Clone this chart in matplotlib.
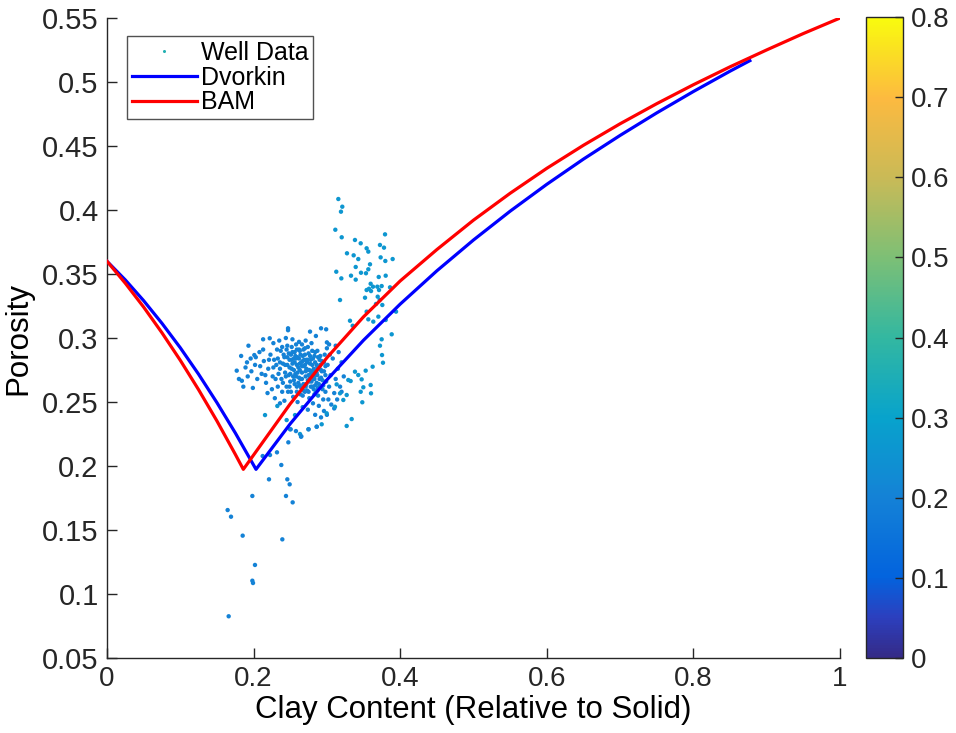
"""Porosity vs clay content: well data against Dvorkin and BAM mixing models."""

import matplotlib
matplotlib.use("Agg")
import matplotlib.pyplot as plt
from matplotlib.colors import LinearSegmentedColormap, Normalize
from matplotlib.lines import Line2D
from matplotlib.cm import ScalarMappable

plt.rcParams["font.family"] = ["Liberation Sans", "DejaVu Sans"]

# --- model curves -----------------------------------------------------------
dvorkin_clay = [0.0, 0.025, 0.05, 0.075, 0.10, 0.125, 0.15, 0.175, 0.2033,
                0.25, 0.30, 0.35, 0.40, 0.45, 0.50, 0.55, 0.60, 0.65, 0.70,
                0.75, 0.80, 0.85, 0.877]
dvorkin_phi = [0.360, 0.3454, 0.3292, 0.3115, 0.2924, 0.2717, 0.2495, 0.2259, 0.1974,
               0.2330, 0.2673, 0.2983, 0.3265, 0.3525, 0.3766, 0.3991, 0.4201, 0.4398,
               0.4583, 0.4759, 0.4926, 0.5085, 0.5167]

bam_clay = [0.0, 0.025, 0.05, 0.075, 0.10, 0.125, 0.15, 0.175, 0.186,
            0.25, 0.30, 0.35, 0.40, 0.45, 0.50, 0.55, 0.60, 0.65, 0.70,
            0.75, 0.80, 0.85, 0.90, 0.95, 1.0]
bam_phi = [0.360, 0.3428, 0.3242, 0.3041, 0.2826, 0.2596, 0.2352, 0.2092, 0.1974,
           0.2486, 0.2846, 0.3166, 0.3446, 0.3691, 0.3921, 0.4131, 0.4326, 0.4506,
           0.4674, 0.4831, 0.4979, 0.5119, 0.5251, 0.5379, 0.550]

# --- well data: main cluster ----------------------------------------------
core_clay = [
    0.228, 0.232, 0.236, 0.238, 0.241, 0.243, 0.245, 0.246, 0.248, 0.249,
    0.251, 0.252, 0.253, 0.255, 0.256, 0.257, 0.258, 0.259, 0.260, 0.261,
    0.262, 0.263, 0.264, 0.265, 0.266, 0.267, 0.268, 0.269, 0.270, 0.271,
    0.272, 0.273, 0.274, 0.275, 0.276, 0.277, 0.278, 0.279, 0.280, 0.281,
    0.282, 0.283, 0.284, 0.285, 0.286, 0.287, 0.288, 0.289, 0.290, 0.292,
    0.293, 0.294, 0.296, 0.297, 0.299, 0.301, 0.303, 0.305, 0.308, 0.310,
    0.312, 0.315, 0.318, 0.244, 0.247, 0.250, 0.254, 0.256, 0.259, 0.262,
    0.265, 0.268, 0.270, 0.273, 0.276, 0.279, 0.282, 0.285, 0.288, 0.291,
    0.295, 0.298, 0.302, 0.306, 0.300, 0.304, 0.263, 0.266, 0.269, 0.272,
    0.274, 0.277, 0.280, 0.283, 0.286, 0.258, 0.255, 0.252, 0.249, 0.246,
    0.240, 0.237, 0.234, 0.231, 0.226, 0.223, 0.220, 0.217, 0.214, 0.211,
    0.208, 0.205, 0.202, 0.199, 0.196, 0.192, 0.189, 0.186, 0.183, 0.180,
    0.225, 0.229, 0.233, 0.236, 0.239, 0.242, 0.219, 0.213, 0.227, 0.235,
    0.244, 0.253, 0.262, 0.271, 0.260, 0.267, 0.274, 0.281, 0.289, 0.296,
    0.284, 0.292, 0.300, 0.310, 0.314, 0.320, 0.323, 0.320, 0.316, 0.312,
    0.177, 0.184, 0.193, 0.201, 0.213, 0.222, 0.247, 0.247, 0.277, 0.285,
    0.292, 0.299, 0.303, 0.300,
    0.240, 0.243, 0.246, 0.249, 0.251, 0.254, 0.256, 0.258, 0.260, 0.262,
    0.264, 0.266, 0.268, 0.270, 0.272, 0.274, 0.276, 0.278, 0.280, 0.282,
    0.284, 0.286, 0.288, 0.290, 0.292, 0.294, 0.296, 0.298, 0.250, 0.253,
    0.257, 0.261, 0.264, 0.267, 0.271, 0.275, 0.278, 0.281, 0.284, 0.287,
    0.290, 0.293, 0.259, 0.263, 0.267, 0.271, 0.275, 0.279, 0.283, 0.287,
    0.242, 0.245, 0.248, 0.252, 0.255, 0.259, 0.263, 0.266, 0.270, 0.274,
    0.277, 0.280, 0.283, 0.287, 0.291, 0.295, 0.298, 0.233, 0.230, 0.236,
    0.239, 0.227, 0.221, 0.216, 0.209, 0.203, 0.197, 0.191,
]
core_phi = [
    0.283, 0.291, 0.276, 0.268, 0.287, 0.279, 0.262, 0.294, 0.271, 0.283,
    0.258, 0.276, 0.289, 0.267, 0.281, 0.272, 0.295, 0.262, 0.285, 0.277,
    0.269, 0.290, 0.256, 0.281, 0.273, 0.286, 0.264, 0.278, 0.292, 0.270,
    0.283, 0.259, 0.275, 0.288, 0.266, 0.280, 0.272, 0.296, 0.262, 0.284,
    0.276, 0.268, 0.289, 0.258, 0.279, 0.271, 0.285, 0.264, 0.276, 0.269,
    0.282, 0.260, 0.274, 0.287, 0.266, 0.279, 0.262, 0.271, 0.284, 0.257,
    0.268, 0.276, 0.262, 0.270, 0.258, 0.266, 0.254, 0.289, 0.279, 0.284,
    0.261, 0.291, 0.258, 0.281, 0.253, 0.274, 0.260, 0.271, 0.255, 0.286,
    0.252, 0.258, 0.252, 0.248, 0.292, 0.287, 0.275, 0.268, 0.283, 0.276,
    0.267, 0.286, 0.279, 0.274, 0.265, 0.270, 0.275, 0.283, 0.277, 0.285,
    0.280, 0.290, 0.272, 0.279, 0.270, 0.287, 0.276, 0.265, 0.282, 0.272,
    0.289, 0.268, 0.279, 0.261, 0.284, 0.270, 0.277, 0.262, 0.286, 0.268,
    0.260, 0.253, 0.262, 0.249, 0.258, 0.251, 0.257, 0.291, 0.296, 0.298,
    0.300, 0.299, 0.297, 0.298, 0.250, 0.246, 0.244, 0.249, 0.247, 0.243,
    0.240, 0.238, 0.240, 0.245, 0.252, 0.258, 0.270, 0.281, 0.289, 0.294,
    0.2745, 0.2666, 0.294, 0.2867, 0.299, 0.2998, 0.3076, 0.3061, 0.305, 0.3016,
    0.3076, 0.3068, 0.295, 0.2966,
    0.265, 0.273, 0.279, 0.262, 0.287, 0.270, 0.264, 0.284, 0.273, 0.291,
    0.268, 0.278, 0.259, 0.287, 0.264, 0.283, 0.275, 0.262, 0.290, 0.268,
    0.281, 0.273, 0.261, 0.283, 0.275, 0.267, 0.281, 0.271, 0.272, 0.280,
    0.286, 0.265, 0.287, 0.282, 0.274, 0.271, 0.283, 0.270, 0.263, 0.277,
    0.268, 0.274, 0.258, 0.263, 0.255, 0.262, 0.258, 0.266, 0.256, 0.259,
    0.285, 0.291, 0.288, 0.293, 0.284, 0.291, 0.280, 0.295, 0.279, 0.293,
    0.269, 0.274, 0.286, 0.290, 0.279, 0.263, 0.278, 0.284, 0.268, 0.281,
    0.293, 0.277, 0.283, 0.271, 0.278, 0.285, 0.274, 0.281,
]

# --- well data: high-clay arm ---------------------------------------------
arm_clay = [
    0.3156, 0.321, 0.3192, 0.3115, 0.3202, 0.3383, 0.3461, 0.3542, 0.3565, 0.3793,
    0.3724, 0.3779, 0.3274, 0.3365, 0.3428, 0.3733, 0.3797, 0.3897, 0.3588, 0.3393,
    0.3565, 0.3128, 0.3465, 0.3533, 0.3329, 0.3707, 0.3802, 0.3197, 0.3393, 0.3597,
    0.3629, 0.3574, 0.3542, 0.3688, 0.3747, 0.3602, 0.3711, 0.3861, 0.352, 0.3693,
    0.372, 0.3179, 0.367, 0.3756, 0.3542, 0.3943, 0.3565, 0.3633, 0.3702, 0.3802,
    0.3315, 0.3352, 0.3884, 0.3747, 0.3724, 0.3752, 0.3765, 0.3624, 0.3529, 0.3383,
    0.3428, 0.3292, 0.3324, 0.3474, 0.3497, 0.3461, 0.3597, 0.3602, 0.3483, 0.3338,
    0.327, 0.3133, 0.3179, 0.327, 0.3224, 0.311, 0.2997, 0.2861, 0.2929, 0.2747,
    0.2633, 0.2497, 0.2565, 0.2156, 0.2324, 0.2451,
]
arm_phi = [
    0.4086, 0.4026, 0.3987, 0.3846, 0.3787, 0.3766, 0.374, 0.3701, 0.3675, 0.381,
    0.3727, 0.3706, 0.3662, 0.3646, 0.3617, 0.363, 0.3602, 0.3617, 0.3576, 0.3555,
    0.3537, 0.3518, 0.351, 0.3506, 0.3487, 0.3477, 0.3487, 0.3466, 0.3456, 0.3424,
    0.3401, 0.3385, 0.3375, 0.3401, 0.3406, 0.3367, 0.3375, 0.3396, 0.3315, 0.3323,
    0.3297, 0.3297, 0.3266, 0.3258, 0.3206, 0.3206, 0.3146, 0.3128, 0.3167, 0.3141,
    0.3135, 0.3096, 0.3029, 0.299, 0.294, 0.2867, 0.2807, 0.2776, 0.2745, 0.2737,
    0.2711, 0.2672, 0.2664, 0.2677, 0.2615, 0.258, 0.2633, 0.2568, 0.2498, 0.2367,
    0.2313, 0.2638, 0.2568, 0.2555, 0.2516, 0.2463, 0.2412, 0.2307, 0.2326, 0.2287,
    0.225, 0.2287, 0.2398, 0.2398, 0.2469, 0.2359,
]

# --- well data: low-porosity tail -----------------------------------------
tail_clay = [
    0.1983, 0.1646, 0.1692, 0.1851, 0.2019, 0.1983, 0.1992, 0.166, 0.2392, 0.2442,
    0.2492, 0.246, 0.2533, 0.221, 0.2378, 0.2319, 0.2124, 0.2224, 0.2474, 0.2506,
    0.2578, 0.2647, 0.2651, 0.2751, 0.2861,
]
tail_phi = [
    0.1766, 0.1656, 0.1604, 0.1456, 0.1227, 0.1104, 0.1086, 0.0826, 0.1427, 0.1766,
    0.1857, 0.1896, 0.1716, 0.1896, 0.2008, 0.2107, 0.2078, 0.2086, 0.2185, 0.2287,
    0.2273, 0.2229, 0.2232, 0.2287, 0.2307,
]

# colour value of each group on the colour scale
core_cval = 0.20
arm_cval = 0.26
tail_cval = 0.20
legend_cval = 0.36

x_ticks = [0, 0.2, 0.4, 0.6, 0.8, 1]
y_ticks = [0.05, 0.1, 0.15, 0.2, 0.25, 0.3, 0.35, 0.4, 0.45, 0.5, 0.55]
cbar_ticks = [0, 0.1, 0.2, 0.3, 0.4, 0.5, 0.6, 0.7, 0.8]

# parula-like colour map
parula = LinearSegmentedColormap.from_list("parula", [
    (0.000, (0.2081, 0.1663, 0.5292)),
    (0.0625, (0.1700, 0.2500, 0.7500)),
    (0.125, (0.0100, 0.3900, 0.8700)),
    (0.250, (0.0800, 0.5100, 0.8400)),
    (0.375, (0.0300, 0.6400, 0.8000)),
    (0.500, (0.2000, 0.7200, 0.6300)),
    (0.625, (0.4900, 0.7500, 0.4600)),
    (0.750, (0.7900, 0.7300, 0.3400)),
    (0.875, (0.9900, 0.7300, 0.2500)),
    (1.000, (0.9763, 0.9831, 0.0538)),
])
norm = Normalize(0, 0.8)

fig = plt.figure(figsize=(9.56, 7.33), dpi=100)
ax = fig.add_axes([0.1119, 0.1023, 0.7668, 0.8731])
cax = fig.add_axes([0.9059, 0.1023, 0.0387, 0.8745])

dot = dict(s=10, linewidths=0, cmap=parula, norm=norm, zorder=2)
ax.scatter(core_clay, core_phi, c=[core_cval] * len(core_clay), **dot)
ax.scatter(arm_clay, arm_phi, c=[arm_cval] * len(arm_clay), **dot)
ax.scatter(tail_clay, tail_phi, c=[tail_cval] * len(tail_clay), **dot)

ax.plot(dvorkin_clay, dvorkin_phi, color="#0000ff", lw=2.3, zorder=3)
ax.plot(bam_clay, bam_phi, color="#ff0000", lw=2.3, zorder=3)

ax.set_xlim(0, 1)
ax.set_ylim(0.05, 0.55)
ax.set_xticks(x_ticks)
ax.set_yticks(y_ticks)
ax.set_xticklabels([f"{v:g}" for v in x_ticks])
ax.set_yticklabels([f"{v:g}" for v in y_ticks])
ax.tick_params(direction="in", length=7, width=1, labelsize=20, colors="#262626",
               pad=6)
ax.tick_params(axis="y", labelsize=21)
for side in ("top", "right"):
    ax.spines[side].set_visible(False)
for side in ("left", "bottom"):
    ax.spines[side].set_color("#262626")
    ax.spines[side].set_linewidth(1.0)

ax.set_xlabel("Clay Content (Relative to Solid)", fontsize=22.5, labelpad=2)
ax.set_ylabel("Porosity", fontsize=22.5, labelpad=6)

handles = [
    Line2D([], [], ls="none", marker="o", ms=2.2, mew=0,
           color=parula(norm(legend_cval))),
    Line2D([], [], color="#0000ff", lw=2.3),
    Line2D([], [], color="#ff0000", lw=2.3),
]
leg = ax.legend(handles, ["Well Data", "Dvorkin", "BAM"], loc="upper left",
                bbox_to_anchor=(0.0273, 0.972), fontsize=18, frameon=True,
                fancybox=False, borderpad=0.2, labelspacing=0.03,
                handlelength=2.6, handletextpad=0.15, borderaxespad=0)
leg.get_frame().set_edgecolor("#262626")
leg.get_frame().set_linewidth(1.0)

cb = fig.colorbar(ScalarMappable(norm=norm, cmap=parula), cax=cax)
cb.set_ticks(cbar_ticks)
cb.set_ticklabels([f"{v:g}" for v in cbar_ticks])
cb.outline.set_edgecolor("#262626")
cb.outline.set_linewidth(1.0)
cax.tick_params(direction="in", length=6, width=1, labelsize=20,
                colors="#262626", pad=6)

fig.savefig("out.png", dpi=100)
